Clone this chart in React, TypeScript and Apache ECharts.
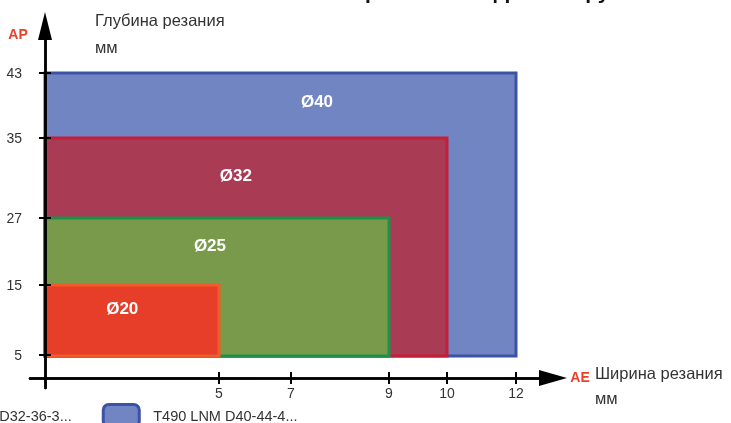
import React, { useEffect, useRef } from "react";
import * as echarts from "echarts";

// ---- data ----
const titleText = "Области применения фрез по группам";
const aeTicks = [5, 7, 9, 10, 12];
const apTicks = [5, 15, 27, 35, 43];
const diameters = ["Ø20", "Ø25", "Ø32", "Ø40"];
const seriesNames = [
  "T490 LNM D20-22-2...",
  "T490 LNM D25-28-3...",
  "T490 LNM D32-36-3...",
  "T490 LNM D40-44-4...",
];
const aeMax = [5, 9, 10, 12];
const apMax = [15, 27, 35, 43];
const apMin = [4.8, 4.8, 4.8, 4.8];
const labelAE = [2.22, 4.74, 5.47, 7.53];
const labelAP = [11.6, 22.0, 31.3, 39.5];
const legendShown = [seriesNames[2], seriesNames[3]];

// ---- layout / style (non-linear axis placement of the ticks, px from origin) ----
const aePos = [174, 246, 344, 402, 471];
const apPos = [23, 93, 160, 240, 305];
const fills = ["#E63E28", "#7A9A4B", "#A93B55", "#7085C1"];
const strokes = ["#F15A29", "#1C9148", "#C41E3A", "#3C52A5"];

function warp(v: number, ticks: number[], pos: number[]) {
  const t = [0, ...ticks];
  const p = [0, ...pos];
  for (let i = 1; i < t.length; i++) {
    if (v <= t[i] || i === t.length - 1) {
      const k = (v - t[i - 1]) / (t[i] - t[i - 1]);
      return p[i - 1] + k * (p[i] - p[i - 1]);
    }
  }
  return 0;
}
const wx = (v: number) => warp(v, aeTicks, aePos);
const wy = (v: number) => warp(v, apTicks, apPos);

const FONT = "Liberation Sans";

export default function App() {
  const ref = useRef<HTMLDivElement>(null);
  useEffect(() => {
    if (!ref.current) return;
    const chart = echarts.init(ref.current, undefined, { renderer: "svg" });

    const xLabel = (v: number) => {
      const i = aePos.indexOf(v);
      return i >= 0 ? String(aeTicks[i]) : "";
    };
    const yLabel = (v: number) => {
      const i = apPos.indexOf(v);
      return i >= 0 ? String(apTicks[i]) : "";
    };

    const xBase = {
      type: "value",
      min: -15,
      max: 508,
      position: "bottom",
      splitLine: { show: false },
      z: 10,
    };
    const yBase = {
      type: "value",
      min: -10,
      max: 352,
      position: "left",
      splitLine: { show: false },
      z: 10,
    };

    const series = diameters.map((d, i) => ({
      type: "custom",
      name: seriesNames[i],
      z: 2 + (diameters.length - i),
      itemStyle: { color: fills[i], borderColor: strokes[i], borderWidth: 3 },
      encode: { x: [0, 2], y: [1, 3] },
      data: [[0, wy(apMin[i]), wx(aeMax[i]), wy(apMax[i]), wx(labelAE[i]), wy(labelAP[i])]],
      renderItem: (params: any, api: any) => {
        const p0 = api.coord([api.value(0), api.value(1)]);
        const p1 = api.coord([api.value(2), api.value(3)]);
        const pl = api.coord([api.value(4), api.value(5)]);
        return {
          type: "group",
          children: [
            {
              type: "rect",
              shape: { x: p0[0], y: p1[1], width: p1[0] - p0[0], height: p0[1] - p1[1] },
              style: { fill: fills[i], stroke: strokes[i], lineWidth: 3 },
            },
            {
              type: "text",
              x: pl[0],
              y: pl[1],
              style: {
                text: d,
                fill: "#fff",
                font: `bold 17px "${FONT}"`,
                align: "center",
                verticalAlign: "middle",
              },
            },
          ],
        };
      },
    }));

    chart.setOption({
      animation: false,
      textStyle: { fontFamily: FONT },
      grid: { left: 30, right: 178, top: 26, bottom: 35, containLabel: false, outerBoundsMode: "none" },
      legend: {
        left: -129,
        top: 398,
        width: 1200,
        icon: "roundRect",
        itemWidth: 36,
        itemHeight: 22,
        itemGap: 30,
        textStyle: { fontSize: 14.5, color: "#333", fontFamily: FONT, padding: [0, 0, 0, 9] },
        data: legendShown.map((n) => {
          const i = seriesNames.indexOf(n);
          return { name: n, itemStyle: { color: fills[i], borderColor: strokes[i], borderWidth: 3 } };
        }),
      },
      xAxis: [
        {
          ...xBase,
          axisLine: {
            onZero: true,
            symbol: ["none", "triangle"],
            symbolSize: [16, 28],
            lineStyle: { color: "#000", width: 2.5 },
          },
          axisTick: { customValues: aePos, length: 6, lineStyle: { color: "#000", width: 2 } },
          axisLabel: {
            customValues: aePos,
            formatter: xLabel,
            margin: -2,
            color: "#333",
            fontSize: 14,
            fontFamily: FONT,
          },
        },
        {
          ...xBase,
          axisLine: { onZero: true, symbol: "none", lineStyle: { color: "#000", width: 2.5 } },
          axisTick: { inside: true, customValues: aePos, length: 6, lineStyle: { color: "#000", width: 2 } },
          axisLabel: { show: false },
        },
      ],
      yAxis: [
        {
          ...yBase,
          axisLine: {
            onZero: true,
            symbol: ["none", "triangle"],
            symbolSize: [14, 28],
            lineStyle: { color: "#000", width: 2.5 },
          },
          axisTick: { customValues: apPos, length: 6, lineStyle: { color: "#000", width: 2 } },
          axisLabel: {
            customValues: apPos,
            formatter: yLabel,
            margin: 8,
            color: "#333",
            fontSize: 14,
            fontFamily: FONT,
          },
        },
        {
          ...yBase,
          axisLine: { onZero: true, symbol: "none", lineStyle: { color: "#000", width: 2.5 } },
          axisTick: { inside: true, customValues: apPos, length: 6, lineStyle: { color: "#000", width: 2 } },
          axisLabel: { show: false },
        },
      ],
      graphic: [
        {
          type: "text",
          x: 460,
          y: -9,
          style: {
            text: titleText,
            font: `bold 21px "${FONT}"`,
            fill: "#111",
            align: "center",
            verticalAlign: "middle",
          },
        },
        {
          type: "text",
          x: 18,
          y: 34,
          style: { text: "AP", font: `bold 14px "${FONT}"`, fill: "#E8412C", align: "center", verticalAlign: "middle" },
        },
        {
          type: "text",
          x: 95,
          y: 20,
          style: { text: "Глубина резания", font: `16.5px "${FONT}"`, fill: "#333", align: "left", verticalAlign: "middle" },
        },
        {
          type: "text",
          x: 95,
          y: 47,
          style: { text: "мм", font: `16.5px "${FONT}"`, fill: "#333", align: "left", verticalAlign: "middle" },
        },
        {
          type: "text",
          x: 580,
          y: 377,
          style: { text: "AE", font: `bold 14px "${FONT}"`, fill: "#E8412C", align: "center", verticalAlign: "middle" },
        },
        {
          type: "text",
          x: 595,
          y: 373,
          style: { text: "Ширина резания", font: `16.5px "${FONT}"`, fill: "#333", align: "left", verticalAlign: "middle" },
        },
        {
          type: "text",
          x: 595,
          y: 398,
          style: { text: "мм", font: `16.5px "${FONT}"`, fill: "#333", align: "left", verticalAlign: "middle" },
        },
      ],
      series,
    });
    return () => chart.dispose();
  }, []);
  return (
    <div
      ref={ref}
      style={{ position: "fixed", left: 0, top: 0, width: 731, height: 423 }}
    />
  );
}
